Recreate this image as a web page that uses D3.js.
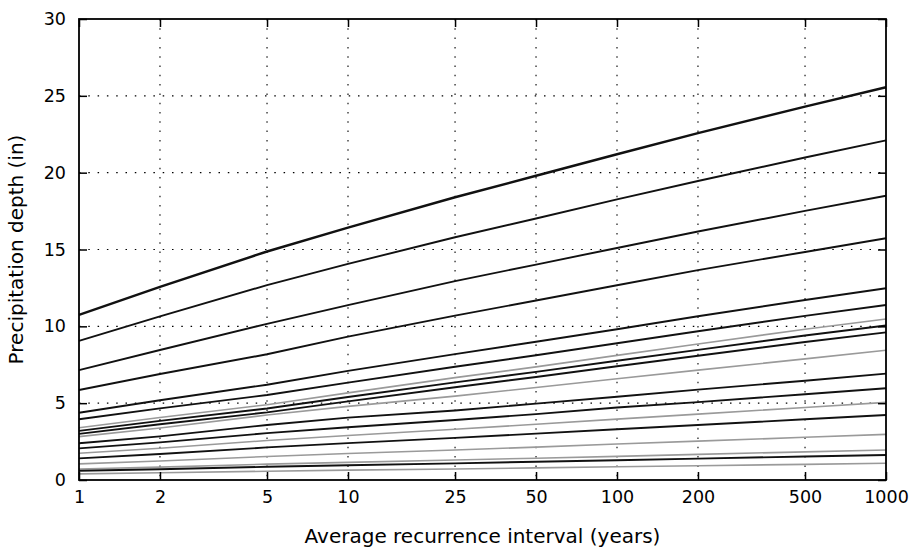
<!DOCTYPE html>
<html>
<head>
<meta charset="utf-8">
<script src="https://cdn.jsdelivr.net/npm/d3@7"></script>
<style>
  body { margin: 0; background: #fff; }
  text { font-family: "DejaVu Sans", sans-serif; fill: #000; }
</style>
</head>
<body>
<script>
// recurrence intervals (years) and tick labels
var aris = [1, 2, 5, 10, 25, 50, 100, 200, 500, 1000];
var yTicks = [0, 5, 10, 15, 20, 25, 30];

// one depth series per duration (inches)
var d60day  = [10.75, 12.57, 14.87, 16.43, 18.4, 19.8, 21.2, 22.57, 24.3, 25.56];
var d45day  = [9.05, 10.65, 12.68, 14.06, 15.8, 17.02, 18.26, 19.46, 20.99, 22.1];
var d30day  = [7.15, 8.46, 10.16, 11.38, 12.94, 14.02, 15.1, 16.17, 17.51, 18.5];
var d20day  = [5.86, 6.9, 8.18, 9.33, 10.7, 11.68, 12.67, 13.66, 14.84, 15.73];
var d10day  = [4.38, 5.19, 6.2, 7.1, 8.19, 9.0, 9.81, 10.66, 11.71, 12.48];
var d7day   = [3.95, 4.66, 5.53, 6.34, 7.37, 8.12, 8.9, 9.68, 10.68, 11.39];
var d4day   = [3.4, 4.07, 4.9, 5.67, 6.66, 7.36, 8.11, 8.85, 9.81, 10.48];
var d3day   = [3.2, 3.85, 4.65, 5.4, 6.35, 7.04, 7.76, 8.47, 9.4, 10.05];
var d2day   = [3.0, 3.63, 4.4, 5.12, 6.04, 6.7, 7.4, 8.09, 8.98, 9.61];
var d24hr   = [2.82, 3.38, 4.23, 4.79, 5.46, 6.02, 6.59, 7.15, 7.88, 8.44];
var d12hr   = [2.39, 2.84, 3.58, 4.06, 4.52, 4.97, 5.42, 5.88, 6.46, 6.92];
var d6hr    = [2.06, 2.45, 3.05, 3.43, 3.9, 4.29, 4.72, 5.07, 5.58, 5.97];
var d3hr    = [1.74, 2.07, 2.57, 2.9, 3.3, 3.63, 3.96, 4.29, 4.72, 5.05];
var d2hr    = [1.41, 1.69, 2.12, 2.4, 2.74, 3.02, 3.3, 3.58, 3.95, 4.23];
var d60min  = [1.05, 1.24, 1.53, 1.72, 1.95, 2.14, 2.34, 2.53, 2.78, 2.97];
var d30min  = [0.72, 0.84, 1.03, 1.15, 1.3, 1.42, 1.54, 1.67, 1.83, 1.95];
var d15min  = [0.6, 0.7, 0.86, 0.96, 1.08, 1.19, 1.29, 1.39, 1.53, 1.63];
var d10min  = [0.4, 0.47, 0.57, 0.64, 0.72, 0.79, 0.86, 0.93, 1.02, 1.09];

var seriesList = [d60day, d45day, d30day, d20day, d10day, d7day, d4day, d3day, d2day,
                  d24hr, d12hr, d6hr, d3hr, d2hr, d60min, d30min, d15min, d10min];
var shades = ["dark", "dark", "dark", "dark", "dark", "dark", "light", "dark", "dark",
              "light", "dark", "dark", "light", "dark", "light", "light", "dark", "light"];

var W = 909, H = 553;
var pLeft = 79, pRight = 886, pTop = 19, pBottom = 480;

var svg = d3.select("body").append("svg")
    .attr("width", W)
    .attr("height", H);

var x = d3.scaleLog().domain([1, 1000]).range([pLeft, pRight]);
var y = d3.scaleLinear().domain([0, 30]).range([pBottom, pTop]);

// dotted grid
svg.append("g")
    .selectAll("line")
    .data(aris.slice(1, -1))
    .enter().append("line")
        .attr("x1", function(d) { return x(d); })
        .attr("x2", function(d) { return x(d); })
        .attr("y1", pTop)
        .attr("y2", pBottom)
        .attr("stroke", "#000")
        .attr("stroke-width", 1.1)
        .attr("stroke-dasharray", "1.5,7.8");

svg.append("g")
    .selectAll("line")
    .data(yTicks.slice(1, -1))
    .enter().append("line")
        .attr("x1", pLeft)
        .attr("x2", pRight)
        .attr("y1", function(d) { return y(d); })
        .attr("y2", function(d) { return y(d); })
        .attr("stroke", "#000")
        .attr("stroke-width", 1.1)
        .attr("stroke-dasharray", "1.5,7.8");

// the curves
var line = d3.line()
    .x(function(d, i) { return x(aris[i]); })
    .y(function(d) { return y(d); });

svg.append("g")
    .selectAll("path")
    .data(seriesList)
    .enter().append("path")
        .attr("d", line)
        .attr("fill", "none")
        .attr("stroke", function(d, i) { return shades[i] == "dark" ? "#111" : "#9a9a9a"; })
        .attr("stroke-width", function(d, i) {
            if (i == 0) return 2.4;
            return shades[i] == "dark" ? 1.9 : 1.6;
        });

// axes, ticks pointing inward
var fmt = function(d) { return d; };
var xb = svg.append("g").attr("transform", "translate(0," + pBottom + ")")
    .call(d3.axisBottom(x).tickValues(aris).tickFormat(fmt).tickSize(-8).tickPadding(11));
var xt = svg.append("g").attr("transform", "translate(0," + pTop + ")")
    .call(d3.axisTop(x).tickValues(aris).tickFormat("").tickSize(-8));
var yl = svg.append("g").attr("transform", "translate(" + pLeft + ",0)")
    .call(d3.axisLeft(y).tickValues(yTicks).tickSize(-8).tickPadding(13));
var yr = svg.append("g").attr("transform", "translate(" + pRight + ",0)")
    .call(d3.axisRight(y).tickValues(yTicks).tickFormat("").tickSize(-8));

[xb, xt, yl, yr].forEach(function(g) {
    g.select(".domain").remove();
    g.selectAll(".tick line").attr("stroke", "#000").attr("stroke-width", 1.5);
    g.selectAll(".tick text").style("font-size", "17.5px").attr("fill", "#000");
});

// frame
svg.append("rect")
    .attr("x", pLeft)
    .attr("y", pTop)
    .attr("width", pRight - pLeft)
    .attr("height", pBottom - pTop)
    .attr("fill", "none")
    .attr("stroke", "#000")
    .attr("stroke-width", 1.8);

// axis titles
svg.append("text")
    .attr("x", (pLeft + pRight) / 2)
    .attr("y", 543)
    .attr("text-anchor", "middle")
    .style("font-size", "20px")
    .text("Average recurrence interval (years)");

svg.append("text")
    .attr("transform", "translate(23," + ((pTop + pBottom) / 2) + ") rotate(-90)")
    .attr("text-anchor", "middle")
    .style("font-size", "20px")
    .text("Precipitation depth (in)");
</script>
</body>
</html>
